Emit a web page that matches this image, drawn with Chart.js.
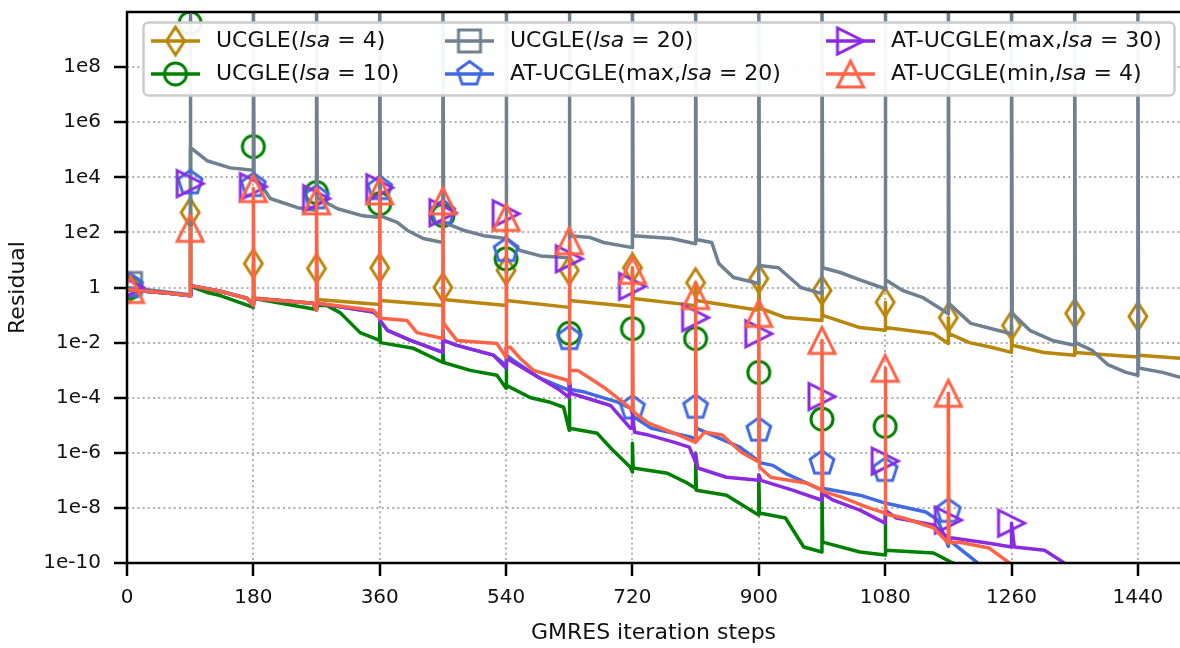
<!DOCTYPE html>
<html lang="en">
<head>
<meta charset="UTF-8">
<title>Residual vs GMRES iteration steps</title>
<script src="https://cdn.jsdelivr.net/npm/chart.js"></script>
<style>
    html, body { margin: 0; padding: 0; background: #fff; }
    #chart { display: block; }
</style>
</head>
<body>
<canvas id="chart" width="1180" height="648"></canvas>
<script>
    // axis ticks
    const xTicks = [0, 180, 360, 540, 720, 900, 1080, 1260, 1440];
    const yTicks = [1e-10, 1e-8, 1e-6, 1e-4, 1e-2, 1, 1e2, 1e4, 1e6, 1e8];
    const yTickLabels = ['1e-10', '1e-8', '1e-6', '1e-4', '1e-2', '1', '1e2', '1e4', '1e6', '1e8'];

    // steps where the markers sit (start + every restart)
    const markerSteps = [5, 90, 180, 270, 360, 450, 540, 630, 720, 810, 900, 990, 1080, 1170, 1260, 1350, 1440];

    // marker values per series (null = no marker)
    const ucgle4Marks = [1.0, 525, 7.4, 4.9, 5.2, 1.0, 4.2, 4.2, 5.2, 1.5, 2.1, 0.78, 0.29, 0.081, 0.042, 0.115, 0.089];
    const ucgle10Marks = [1.0, 4e9, 1.3e5, 2.8e3, 1.1e3, 410, 11, 0.022, 0.032, 0.014, 8.3e-4, 1.66e-5, 9.1e-6, null, null, null, null];
    const ucgle20Marks = [1.4, 1e11, 1e11, 1e11, 1e11, 1e11, 1e11, 1e11, 1e11, 1e11, 1e11, 1e11, 1e11, 1e11, 1e11, 1e11, 1e11];
    const atMax20Marks = [1.1, 6.3e3, 5.0e3, 1.8e3, 3.9e3, 520, 22, 0.014, 4.2e-5, 4.5e-5, 6.6e-6, 4.2e-7, 2.3e-7, 7.5e-9, null, null, null];
    const atMax30Marks = [1.0, 5.9e3, 4.6e3, 1.7e3, 4.2e3, 520, 480, 11, 1.1, 0.081, 0.021, 1.1e-4, 5.0e-7, 3.6e-9, 2.8e-9, null, null];
    const atMin4Marks = [0.85, 140, 3900, 1400, 3200, 1400, 350, 50, 4.2, 0.51, 0.115, 0.012, 1.17e-3, 1.45e-4, null, null, null];

    // residual histories [step, residual]
    const ucgle4Line = [[0, 0.85], [30, 0.72], [60, 0.62], [90, 0.51], [90, 525], [91, 1.1], [133, 0.72], [171, 0.42], [180, 0.24], [180, 7.4], [181, 0.42],
        [265, 0.27], [270, 0.17], [270, 4.9], [271, 0.37], [360, 0.24], [360, 5.2], [361, 0.34], [450, 0.22], [450, 1.0], [451, 0.37],
        [540, 0.22], [540, 4.2], [541, 0.34], [630, 0.19], [630, 4.2], [631, 0.34], [720, 0.2], [720, 5.2], [721, 0.4], [810, 0.22], [810, 1.5], [811, 0.34],
        [900, 0.15], [900, 2.1], [901, 0.18], [938, 0.081], [990, 0.063], [990, 0.78], [991, 0.098], [1044, 0.035], [1080, 0.028], [1080, 0.29], [1081, 0.035],
        [1149, 0.021], [1170, 0.0093], [1170, 0.081], [1171, 0.021], [1200, 0.01], [1231, 0.0068], [1260, 0.0044], [1260, 0.042], [1261, 0.008],
        [1306, 0.0044], [1350, 0.0035], [1350, 0.115], [1351, 0.0044], [1404, 0.0035], [1440, 0.003], [1440, 0.089], [1441, 0.0035], [1500, 0.0027]];

    const ucgle10Line = [[0, 0.85], [30, 0.72], [60, 0.62], [90, 0.51], [90, 1.2e5], [91, 1.1], [114, 0.66], [133, 0.51], [180, 0.19], [180, 0.45], [181, 0.4],
        [270, 0.16], [270, 0.3], [271, 0.22], [285, 0.22], [304, 0.12], [332, 0.023], [360, 0.012], [360, 0.054], [361, 0.01], [408, 0.0062],
        [450, 0.0019], [450, 0.0062], [451, 0.0019], [489, 9.8e-4], [527, 6.5e-4], [540, 2.2e-4], [540, 1.2e-3], [541, 2.8e-4], [575, 1.0e-4],
        [603, 6.8e-5], [622, 4.5e-5], [630, 6.6e-6], [630, 9.5e-5], [631, 7.8e-6], [670, 5.1e-6], [689, 1.5e-6], [717, 3.0e-7], [720, 2.0e-7],
        [720, 2.2e-6], [721, 2.8e-7], [770, 1.8e-7], [796, 8.5e-8], [810, 5.2e-8], [810, 9.8e-7], [811, 4.4e-8], [854, 2.9e-8], [895, 6.5e-9],
        [900, 5.5e-9], [900, 1.3e-7], [901, 6.5e-9], [938, 4.3e-9], [964, 3.8e-10], [990, 2.5e-10], [990, 4.4e-8], [991, 5.7e-10], [1044, 2.5e-10],
        [1080, 1.95e-10], [1080, 6.5e-9], [1081, 2.9e-10], [1149, 2.3e-10], [1173, 1.1e-10], [1185, 8e-11]];

    const ucgle20Line = [[0, 1.0], [45, 0.75], [90, 0.55], [90, 1e11], [91, 1.2e5], [114, 4e4], [147, 2.2e4], [180, 1.8e4], [180, 1e11], [181, 1.3e4],
        [204, 1.7e3], [243, 790], [270, 620], [270, 1e11], [271, 1.8e3], [300, 720], [336, 400], [360, 350], [360, 1e11], [361, 400], [385, 230],
        [399, 120], [422, 60], [450, 43], [450, 1e11], [451, 230], [479, 120], [508, 76], [540, 60], [540, 1e11], [541, 60], [560, 22], [589, 14],
        [630, 12], [630, 1e11], [631, 76], [660, 65], [679, 43], [720, 28], [720, 1e11], [721, 76], [776, 60], [810, 39], [810, 1e11], [811, 55],
        [833, 43], [843, 7.4], [864, 2.3], [900, 1.4], [900, 1e11], [901, 6.3], [928, 5.2], [960, 1.0], [990, 0.6], [990, 1e11], [991, 5.2],
        [1016, 3.5], [1044, 1.9], [1080, 0.9], [1080, 1e11], [1081, 1.9], [1105, 0.78], [1133, 0.44], [1159, 0.17], [1170, 0.11], [1170, 1e11],
        [1171, 0.26], [1202, 0.05], [1240, 0.028], [1260, 0.021], [1260, 1e11], [1261, 0.115], [1286, 0.028], [1318, 0.012], [1350, 0.008],
        [1350, 1e11], [1351, 0.01], [1375, 5.2e-3], [1397, 1.6e-3], [1423, 8.3e-4], [1440, 6.5e-4], [1440, 1e11], [1441, 1.2e-3], [1475, 8.3e-4], [1500, 5.5e-4]];

    const atMax20Line = [[0, 0.85], [30, 0.72], [60, 0.62], [90, 0.5], [91, 1.17], [133, 0.73], [171, 0.4], [180, 0.22], [181, 0.4], [265, 0.27],
        [270, 0.15], [271, 0.27], [351, 0.13], [360, 0.08], [361, 0.06], [371, 0.028], [404, 0.012], [450, 0.0044], [450, 0.028], [451, 0.012],
        [470, 0.0079], [522, 0.0035], [540, 0.0015], [540, 0.0068], [541, 0.0035], [550, 0.0023], [589, 5.0e-4], [630, 1.86e-4], [630, 4.3e-4],
        [632, 2.0e-4], [652, 1.6e-4], [700, 6.8e-5], [717, 4.2e-5], [720, 2.7e-5], [722, 2.0e-5], [747, 7.8e-6], [804, 3.7e-6], [810, 3.0e-6],
        [811, 7.8e-6], [840, 3.7e-6], [873, 1.6e-6], [900, 5.0e-7], [901, 4.4e-7], [920, 3.5e-7], [938, 1.8e-7], [990, 4.4e-8], [991, 5.2e-8],
        [1044, 2.9e-8], [1080, 1.5e-8], [1081, 1.5e-8], [1138, 7.1e-9], [1155, 3.6e-9], [1170, 4e-10], [1171, 6.8e-10], [1210, 1.1e-10], [1215, 8e-11]];

    const atMax30Line = [[0, 0.85], [30, 0.72], [60, 0.62], [90, 0.5], [91, 1.17], [133, 0.73], [171, 0.4], [180, 0.22], [181, 0.4], [265, 0.27],
        [270, 0.15], [271, 0.27], [351, 0.13], [360, 0.08], [361, 0.06], [371, 0.028], [404, 0.012], [450, 0.0044], [450, 0.028], [451, 0.012],
        [470, 0.0079], [522, 0.0035], [540, 0.0012], [540, 0.0068], [541, 0.0027], [617, 1.86e-4], [630, 1.0e-4], [630, 4.3e-4], [632, 1.45e-4],
        [689, 5.2e-5], [717, 7.8e-6], [720, 7.8e-6], [720, 2.7e-5], [723, 5.6e-6], [743, 4.4e-6], [780, 2.4e-6], [801, 1.6e-6], [810, 4.6e-7],
        [810, 9e-7], [813, 2.8e-7], [854, 1.3e-7], [900, 1.0e-7], [900, 1.6e-7], [903, 1.0e-7], [948, 4.4e-8], [990, 1.9e-8], [990, 3.5e-8],
        [1006, 1.9e-8], [1044, 8.3e-9], [1080, 2.8e-9], [1080, 8.3e-9], [1096, 4.3e-9], [1149, 2.4e-9], [1170, 8.1e-10], [1176, 8.1e-10],
        [1228, 5.2e-10], [1260, 3.8e-10], [1260, 2.8e-9], [1264, 3.8e-10], [1307, 2.9e-10], [1333, 1.1e-10], [1340, 8e-11]];

    const atMin4Line = [[0, 0.85], [30, 0.72], [60, 0.62], [90, 0.5], [90, 140], [91, 1.17], [133, 0.73], [171, 0.4], [180, 0.22], [180, 3900],
        [181, 0.4], [265, 0.27], [270, 0.15], [270, 1400], [271, 0.27], [351, 0.15], [360, 0.081], [360, 3200], [361, 0.076], [399, 0.063],
        [413, 0.023], [450, 0.014], [450, 1400], [451, 0.05], [470, 0.012], [527, 0.0093], [540, 0.0029], [540, 350], [541, 0.0068], [546, 0.0068],
        [560, 0.0027], [579, 9.8e-4], [627, 4.3e-4], [630, 3.3e-4], [630, 50], [631, 1.0e-3], [642, 9.8e-4], [660, 5.0e-4], [679, 2.4e-4],
        [707, 6.8e-5], [720, 3.5e-5], [720, 4.2], [721, 3.2e-5], [722, 3.0e-5], [743, 1.2e-5], [780, 5.1e-6], [810, 2.4e-6], [810, 0.51],
        [811, 2.6e-6], [823, 5.6e-6], [848, 4.4e-6], [875, 1.05e-6], [900, 4.6e-7], [900, 0.115], [901, 3.0e-7], [917, 1.3e-7], [969, 7.9e-8],
        [990, 4.4e-8], [990, 0.012], [991, 4.0e-8], [1017, 2.5e-8], [1054, 1.07e-8], [1080, 6.5e-9], [1080, 1.17e-3], [1081, 6.0e-9],
        [1106, 4.3e-9], [1149, 1.9e-9], [1170, 5.2e-10], [1170, 1.45e-4], [1171, 5.5e-10], [1186, 5.7e-10], [1228, 3.5e-10], [1255, 1.1e-10],
        [1262, 8e-11]];

    // legend labels: [normal, italic, normal]
    const labels = [
        ['UCGLE(', 'lsa', ' = 4)'],
        ['UCGLE(', 'lsa', ' = 10)'],
        ['UCGLE(', 'lsa', ' = 20)'],
        ['AT-UCGLE(max,', 'lsa', ' = 20)'],
        ['AT-UCGLE(max,', 'lsa', ' = 30)'],
        ['AT-UCGLE(min,', 'lsa', ' = 4)']
    ];
    const colors = ['#b8860b', '#008000', '#708090', '#4169e1', '#8a2be2', '#ff6347'];
    const shapes = ['diamond', 'circle', 'square', 'pentagon', 'triRight', 'triUp'];
    const lines = [ucgle4Line, ucgle10Line, ucgle20Line, atMax20Line, atMax30Line, atMin4Line];
    const marks = [ucgle4Marks, ucgle10Marks, ucgle20Marks, atMax20Marks, atMax30Marks, atMin4Marks];

    const FONT = '"DejaVu Sans", sans-serif';

    // hollow marker drawn on a small canvas, used as pointStyle
    function markerCanvas(shape, color) {
        const size = 36;
        const c = document.createElement('canvas');
        c.width = size;
        c.height = size;
        const g = c.getContext('2d');
        const m = size / 2;
        g.strokeStyle = color;
        g.lineWidth = 3;
        g.lineJoin = 'miter';
        g.beginPath();
        if (shape === 'diamond') {
            g.moveTo(m, m - 14); g.lineTo(m + 9, m); g.lineTo(m, m + 14); g.lineTo(m - 9, m);
        } else if (shape === 'circle') {
            g.arc(m, m, 11, 0, Math.PI * 2);
        } else if (shape === 'square') {
            g.rect(m - 11, m - 11, 22, 22);
        } else if (shape === 'pentagon') {
            for (let k = 0; k < 5; k++) {
                const a = -Math.PI / 2 + k * 2 * Math.PI / 5;
                const px = m + 12.5 * Math.cos(a), py = m + 12.5 * Math.sin(a);
                if (k === 0) g.moveTo(px, py); else g.lineTo(px, py);
            }
        } else if (shape === 'triRight') {
            g.moveTo(m - 13, m - 13); g.lineTo(m + 13, m); g.lineTo(m - 13, m + 13);
        } else if (shape === 'triUp') {
            g.moveTo(m, m - 13); g.lineTo(m + 13, m + 13); g.lineTo(m - 13, m + 13);
        }
        g.closePath();
        g.stroke();
        return c;
    }

    const markerImgs = shapes.map((s, i) => markerCanvas(s, colors[i]));

    // build datasets: line then markers, drawing order gold..red (red on top)
    const datasets = [];
    lines.forEach((line, i) => {
        const order = (6 - i) * 2;
        datasets.push({
            type: 'line',
            data: line.map(p => ({ x: p[0], y: p[1] })),
            borderColor: colors[i],
            borderWidth: 3.5,
            borderJoinStyle: 'round',
            pointRadius: 0,
            tension: 0,
            fill: false,
            order: order
        });
        const pts = [];
        markerSteps.forEach((s, k) => {
            if (marks[i][k] !== null) pts.push({ x: s, y: marks[i][k] });
        });
        datasets.push({
            type: 'scatter',
            data: pts,
            pointStyle: markerImgs[i],
            pointRadius: 12,
            clip: 0,
            order: order - 1
        });
    });

    // spines on top of the data
    const framePlugin = {
        id: 'frame',
        afterDatasetsDraw(chart) {
            const { ctx, chartArea: a } = chart;
            ctx.save();
            ctx.strokeStyle = '#000';
            ctx.lineWidth = 2.5;
            ctx.lineCap = 'square';
            ctx.beginPath();
            ctx.moveTo(a.right + 2, a.top);
            ctx.lineTo(a.left, a.top);
            ctx.lineTo(a.left, a.bottom);
            ctx.lineTo(a.right + 2, a.bottom);
            ctx.stroke();
            ctx.restore();
        }
    };

    // matplotlib style legend, 3 columns x 2 rows
    const legendPlugin = {
        id: 'mplLegend',
        afterDraw(chart) {
            const ctx = chart.ctx;
            const bx = 143.5, by = 22.5, bw = 1031, bh = 73, r = 5;
            ctx.save();
            ctx.beginPath();
            ctx.moveTo(bx + r, by);
            ctx.lineTo(bx + bw - r, by);
            ctx.arcTo(bx + bw, by, bx + bw, by + r, r);
            ctx.lineTo(bx + bw, by + bh - r);
            ctx.arcTo(bx + bw, by + bh, bx + bw - r, by + bh, r);
            ctx.lineTo(bx + r, by + bh);
            ctx.arcTo(bx, by + bh, bx, by + bh - r, r);
            ctx.lineTo(bx, by + r);
            ctx.arcTo(bx, by, bx + r, by, r);
            ctx.closePath();
            ctx.fillStyle = 'rgba(255,255,255,0.93)';
            ctx.fill();
            ctx.strokeStyle = '#cccccc';
            ctx.lineWidth = 2.5;
            ctx.stroke();

            const colX = [151, 445, 826];
            const textX = [216, 510, 891];
            const rowY = [41, 74];
            labels.forEach((parts, i) => {
                const col = Math.floor(i / 2), row = i % 2;
                const lx = colX[col], ly = rowY[row];
                ctx.strokeStyle = colors[i];
                ctx.lineWidth = 3.5;
                ctx.lineCap = 'butt';
                ctx.beginPath();
                ctx.moveTo(lx, ly);
                ctx.lineTo(lx + 49, ly);
                ctx.stroke();
                const img = markerImgs[i];
                ctx.drawImage(img, lx + 24.5 - img.width / 2, ly - img.height / 2);
                let tx = textX[col];
                ctx.fillStyle = '#111';
                ctx.textBaseline = 'middle';
                parts.forEach((p, k) => {
                    ctx.font = (k === 1 ? 'italic ' : '') + '22px ' + FONT;
                    ctx.fillText(p, tx, ly);
                    tx += ctx.measureText(p).width;
                });
            });
            ctx.restore();
        }
    };

    const gridStyle = {
        color: '#b0b0b0',
        lineWidth: 2,
        tickColor: '#000',
        tickWidth: 2.5,
        tickLength: 13,
        tickBorderDash: []
    };

    // fixed axis box sizes, no automatic label padding
    function fixBox(scale, w, h) {
        if (w !== null) scale.width = w;
        if (h !== null) scale.height = h;
        scale.paddingTop = 0;
        scale.paddingBottom = 0;
        scale.paddingLeft = 0;
        scale.paddingRight = 0;
    }

    new Chart(document.getElementById('chart').getContext('2d'), {
        type: 'line',
        data: { datasets: datasets },
        options: {
            responsive: false,
            animation: false,
            devicePixelRatio: 1,
            layout: { autoPadding: false, padding: { top: 12, right: 0, bottom: 0, left: 0 } },
            plugins: { legend: { display: false }, tooltip: { enabled: false } },
            scales: {
                x: {
                    type: 'linear',
                    min: 0,
                    max: 1500,
                    afterBuildTicks: s => { s.ticks = xTicks.map(v => ({ value: v })); },
                    afterFit: s => fixBox(s, null, 85),
                    grid: gridStyle,
                    border: { display: false, dash: [2, 3.2] },
                    ticks: {
                        padding: 10,
                        maxRotation: 0,
                        color: '#111',
                        font: { family: FONT, size: 20 },
                        callback: v => String(v)
                    },
                    title: {
                        display: true,
                        text: 'GMRES iteration steps',
                        color: '#111',
                        font: { family: FONT, size: 22 },
                        padding: { top: 0, bottom: 2 }
                    }
                },
                y: {
                    type: 'logarithmic',
                    min: 1e-10,
                    max: 1e10,
                    afterBuildTicks: s => { s.ticks = yTicks.map(v => ({ value: v })); },
                    afterFit: s => fixBox(s, 127, null),
                    grid: gridStyle,
                    border: { display: false, dash: [2, 3.2] },
                    ticks: {
                        padding: 13,
                        color: '#111',
                        font: { family: FONT, size: 20 },
                        callback: (v, i) => yTickLabels[i]
                    },
                    title: {
                        display: true,
                        text: 'Residual',
                        color: '#111',
                        font: { family: FONT, size: 22 },
                        padding: { top: 5, bottom: 0 }
                    }
                }
            }
        },
        plugins: [framePlugin, legendPlugin]
    });
</script>
</body>
</html>
